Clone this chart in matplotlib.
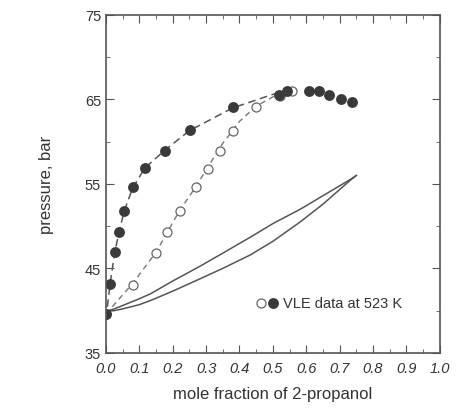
import matplotlib.pyplot as plt
from matplotlib.ticker import MultipleLocator

plt.rcParams['font.family'] = ['Liberation Sans', 'DejaVu Sans']

# filled circles, VLE data at 523 K
x_filled = [0.0, 0.013, 0.027, 0.04, 0.055, 0.08, 0.117, 0.177, 0.252, 0.381,
            0.519, 0.542, 0.607, 0.638, 0.669, 0.703, 0.738]
p_filled = [39.6, 43.2, 46.9, 49.3, 51.8, 54.6, 56.9, 58.9, 61.4, 64.1,
            65.5, 66.0, 66.0, 66.0, 65.5, 65.1, 64.7]

# open circles
x_open = [0.0, 0.08, 0.149, 0.182, 0.222, 0.269, 0.305, 0.341, 0.381, 0.45,
          0.522, 0.557]
p_open = [39.6, 43.0, 46.8, 49.3, 51.8, 54.6, 56.8, 58.9, 61.3, 64.1,
          65.4, 66.0]

# dashed curves
x_dash1 = [0.0, 0.013, 0.027, 0.04, 0.055, 0.08, 0.117, 0.177, 0.25, 0.38, 0.5, 0.55]
p_dash1 = [39.0, 43.3, 47.0, 49.4, 51.8, 54.5, 56.9, 59.0, 61.3, 64.0, 65.6, 66.1]
x_dash2 = [0.0, 0.08, 0.15, 0.22, 0.27, 0.31, 0.35, 0.40, 0.45, 0.5, 0.55]
p_dash2 = [39.6, 43.2, 46.9, 51.8, 54.7, 57.3, 59.8, 62.4, 64.2, 65.3, 66.1]

# solid curves
x_solid = [0.0, 0.025, 0.05, 0.1, 0.134, 0.2, 0.284, 0.35, 0.433, 0.5,
           0.582, 0.65, 0.731, 0.75]
p_solid_up = [39.9, 40.2, 40.6, 41.4, 42.0, 43.5, 45.3, 46.8, 48.7, 50.3,
              52.0, 53.6, 55.5, 56.0]
p_solid_low = [39.9, 40.0, 40.2, 40.7, 41.2, 42.3, 43.8, 45.0, 46.6, 48.2,
               50.5, 52.6, 55.4, 56.0]

col = '#3a3a3a'
fig = plt.figure(figsize=(4.77, 4.10), dpi=100)
ax = fig.add_axes([0.222, 0.137, 0.70, 0.824])

ax.plot(x_solid, p_solid_up, '-', color='#555555', lw=1.1)
ax.plot(x_solid, p_solid_low, '-', color='#555555', lw=1.1)
ax.plot(x_dash1, p_dash1, '--', color='#555555', lw=1.1, dashes=(5, 3))
ax.plot(x_dash2, p_dash2, '--', color='#777777', lw=1.0, dashes=(4, 3))
ax.plot(x_open, p_open, 'o', mfc='white', mec='#666666', ms=6.5, mew=0.9)
ax.plot(x_filled, p_filled, 'o', color=col, ms=6.8)

# legend as text
ax.plot([0.466], [40.9], 'o', mfc='white', mec='#666666', ms=6.5, mew=0.9)
ax.plot([0.5], [40.9], 'o', color=col, ms=6.8)
ax.text(0.53, 40.9, 'VLE data at 523 K', va='center', fontsize=10.5, color='#333333')

ax.set_xlim(0, 1.0)
ax.set_ylim(35, 75)
ax.set_xticks([0.0, 0.1, 0.2, 0.3, 0.4, 0.5, 0.6, 0.7, 0.8, 0.9, 1.0])
ax.set_xticklabels(['0.0', '0.1', '0.2', '0.3', '0.4', '0.5', '0.6', '0.7', '0.8', '0.9', '1.0'],
                   style='italic')
ax.set_yticks([35, 45, 55, 65, 75])
ax.xaxis.set_minor_locator(MultipleLocator(0.05))
ax.yaxis.set_minor_locator(MultipleLocator(5))
ax.tick_params(which='both', direction='in', top=True, right=True, color='#555555',
               labelsize=10.5, labelcolor='#333333')
ax.tick_params(which='major', length=6)
ax.tick_params(which='minor', length=3)
ax.tick_params(axis='x', pad=6)
for s in ax.spines.values():
    s.set_color('#555555')
    s.set_linewidth(1.2)

ax.set_xlabel('mole fraction of 2-propanol', fontsize=12, color='#333333', labelpad=8)
ax.set_ylabel('pressure, bar', fontsize=12, color='#333333', labelpad=22)

fig.savefig('out.png', dpi=100)
